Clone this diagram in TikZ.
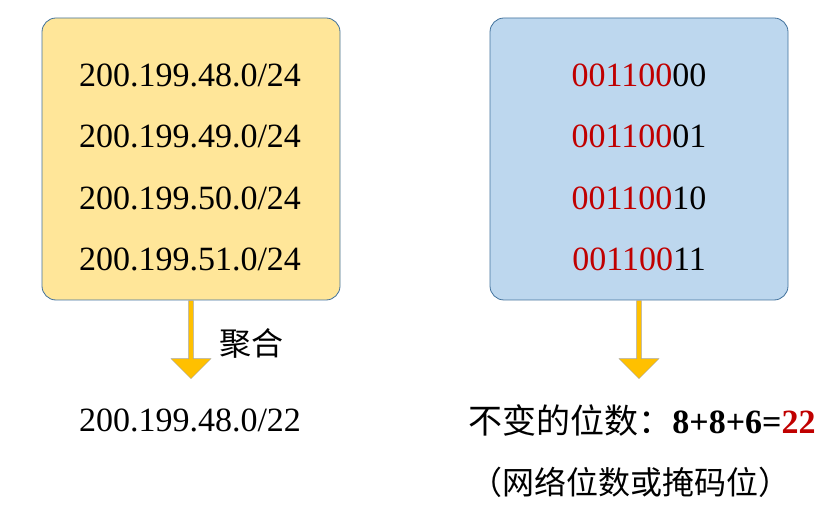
\documentclass[tikz,border=0pt]{standalone}
\usepackage{fontspec}
\setmainfont{Liberation Serif}
\newfontfamily\cjk{Noto Sans CJK SC}
\usetikzlibrary{shapes.arrows}
\definecolor{boxyellow}{HTML}{FFE699}
\definecolor{boxblue}{HTML}{BDD7EE}
\definecolor{edgeblue}{HTML}{41719C}
\definecolor{netred}{HTML}{C00000}
\definecolor{arrowgold}{HTML}{FFC000}
\tikzset{
  netbox/.style={draw=edgeblue,line width=0.8pt,rounded corners=14pt,minimum width=298pt,minimum height=282pt},
  row/.style={font=\fontsize{34}{36}\selectfont},
  cjklabel/.style={font=\cjk\fontsize{32}{34}\selectfont},
  downarrow/.style={single arrow,draw=gray!70,fill=arrowgold,shape border rotate=270,
    minimum height=78pt,minimum width=40pt,single arrow head extend=9pt,inner sep=1pt,
    single arrow head indent=0pt}
}
\begin{document}
\begin{tikzpicture}[x=1pt,y=-1pt]
  \useasboundingbox (0,0) rectangle (837,518);
  % boxes
  \node[netbox,fill=boxyellow] (prefixes) at (191,159) {};
  \node[netbox,fill=boxblue] (bits) at (639,159) {};
  % rows
  \foreach \i/\n/\b in {0/48/00,1/49/01,2/50/10,3/51/11}{
    \node[row] (p\i) at (190,75+61.5*\i) {200.199.\n.0/24};
    \node[row] (b\i) at (639,75+61.5*\i) {\textcolor{netred}{001100}\b};
  }
  % arrows
  \node[downarrow,anchor=tail] (aggr) at (prefixes.south) {};
  \node[downarrow,anchor=tail] (keep) at (bits.south) {};
  \node[cjklabel,anchor=west] (aggrlabel) at (216,343) {聚合};
  % results
  \node[row] (result) at (190,420) {200.199.48.0/22};
  \node[row] (count) at (642,420) {{\cjk 不变的位数：}\textbf{8+8+6=\textcolor{netred}{22}}};
  \node[cjklabel] (note) at (630,482) {（网络位数或掩码位）};
\end{tikzpicture}
\end{document}
